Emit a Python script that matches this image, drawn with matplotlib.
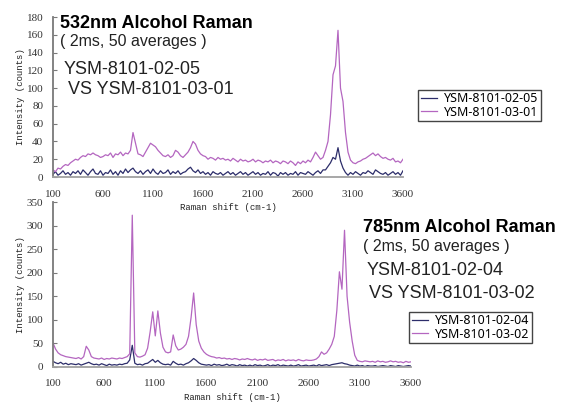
import numpy as np
import matplotlib.pyplot as plt

# Raman shift grid (cm-1), shared by all four spectra
shift = np.arange(100, 3601, 25)

# 532 nm spectra (counts)
ysm_02_05 = [3, 6, 2, 4, 7, 3, 5, 2, 6,
             4, 7, 3, 8, 5, 2, 6, 9,
             4, 3, 7, 2, 5, 4, 8, 3,
             6, 2, 7, 4, 9, 5,
             8, 10, 6, 4, 7, 3,
             6, 8, 4, 9, 5, 3, 7, 4,
             5, 8, 3, 6, 4, 7, 3, 5,
             6, 9, 11, 7, 5, 8, 4, 6,
             3, 5, 2, 6, 4, 3, 5, 2,
             4, 6, 3, 5, 2, 4, 6, 3,
             5, 2, 4, 6, 3, 5, 2, 4,
             3, 6, 2, 5, 4, 1, 5, 3,
             5, 2, 4, 3, 6, 2, 5, 4,
             3, 6, 4, 2, 5, 7, 4, 8,
             8, 12, 16, 22, 20, 33, 18, 10,
             5, 2, 5, 3, 6, 4, 2, 5,
             4, 7, 5, 3, 8, 6, 4, 3,
             5, 2, 4, 6, 3, 5, 2, 7]
ysm_03_01 = [8, 6, 10, 9, 12, 14, 13, 16, 18,
             20, 19, 22, 24, 23, 26, 25, 27,
             25, 24, 22, 23, 25, 24, 27, 22,
             26, 25, 28, 24, 27, 26,
             30, 50, 38, 26, 25, 23,
             28, 33, 38, 36, 34, 30, 27, 24,
             23, 25, 22, 24, 30, 28, 24, 22,
             25, 28, 33, 40, 37, 30, 26, 24,
             23, 20, 22, 21, 19, 22, 20, 21,
             19, 20, 18, 21, 19, 17, 20, 18,
             19, 17, 18, 20, 17, 19, 18, 16,
             18, 17, 19, 16, 18, 17, 15, 18,
             17, 15, 18, 16, 13, 17, 15, 18,
             16, 19, 17, 22, 28, 24, 20, 22,
             30, 40, 70, 115, 125, 165, 100, 85,
             50, 28, 19, 16, 15, 17, 18, 20,
             21, 23, 25, 27, 24, 26, 23, 21,
             22, 20, 19, 21, 17, 18, 16, 20]

# 785 nm spectra (counts)
ysm_02_04 = [12, 9, 7, 10, 6, 8, 5, 7, 6,
             5, 7, 4, 6, 8, 10, 7, 5,
             6, 4, 7, 5, 3, 6, 4, 5,
             4, 6, 5, 7, 8, 15,
             46, 8, 5, 6, 4, 7,
             8, 12, 16, 10, 14, 9, 6, 5,
             6, 4, 12, 8, 5, 6, 4, 7,
             9, 13, 18, 14, 9, 6, 5, 4,
             5, 3, 6, 4, 5, 3, 4, 6,
             3, 5, 4, 2, 5, 3, 4, 2,
             4, 2, 5, 3, 4, 2, 3, 5,
             2, 4, 3, 5, 2, 4, 3, 2,
             4, 2, 3, 5, 2, 3, 4, 2,
             3, 4, 2, 5, 3, 4, 5, 3,
             5, 6, 7, 8, 9, 7, 6, 4,
             3, 2, 4, 2, 3, 1, 3, 2,
             2, 3, 1, 2, 3, 2, 1, 3,
             2, 1, 3, 2, 1, 2, 3, 2]
ysm_03_02 = [51, 38, 30, 26, 24, 22, 21, 20, 19,
             18, 20, 17, 22, 44, 36, 22, 19,
             18, 17, 19, 16, 18, 17, 19, 18,
             17, 19, 18, 20, 22, 28,
             322, 30, 22, 21, 23, 26,
             40, 75, 117, 66, 119, 72, 42, 32,
             30, 32, 68, 45, 36, 38, 42, 48,
             65, 105, 157, 90, 55, 40, 32, 27,
             24, 22, 21, 19, 20, 18, 19, 17,
             18, 16, 18, 17, 15, 17, 16, 18,
             16, 15, 17, 14, 16, 15, 17, 14,
             15, 16, 13, 15, 14, 16, 13, 15,
             14, 15, 13, 16, 14, 13, 15, 14,
             14, 15, 17, 22, 32, 27, 30, 38,
             48, 65, 120, 202, 165, 290, 150, 95,
             55, 25, 14, 12, 11, 13, 12, 11,
             12, 10, 13, 11, 12, 10, 11, 13,
             11, 12, 10, 11, 9, 12, 10, 11]

xticks = [100, 600, 1100, 1600, 2100, 2600, 3100, 3600]
navy = '#2c2d6a'
purple = '#b466c0'
mono = 'Liberation Mono'
serif = 'Liberation Serif'

fig = plt.figure(figsize=(5.66, 4.05), dpi=100)


def style(ax, ymax, ystep):
    ax.set_xlim(100, 3600)
    ax.set_ylim(0, ymax)
    ax.set_xticks(xticks)
    ax.set_yticks(np.arange(0, ymax + 1, ystep))
    ax.patch.set_alpha(0)
    for s in ['top', 'right']:
        ax.spines[s].set_visible(False)
    ax.spines['left'].set_color('#7a7a7a')
    ax.spines['left'].set_linewidth(1.3)
    ax.spines['bottom'].set_color('#a0a0a0')
    ax.spines['bottom'].set_linewidth(1.3)
    ax.tick_params(axis='y', direction='in', length=3, color='#7a7a7a', pad=7,
                   labelsize=8, labelcolor='#333333')
    ax.tick_params(axis='x', length=0, pad=9, labelsize=8, labelcolor='#333333')
    for lab in ax.get_xticklabels() + ax.get_yticklabels():
        lab.set_family(serif)
    ax.set_xlabel('Raman shift (cm-1)', family=mono, fontsize=6.5, labelpad=3, color='#222222')
    ax.set_ylabel('Intensity (counts)', family=mono, fontsize=6.5, labelpad=1, color='#222222')


def legend(ax, x0, y0, names):
    lg = ax.legend(names, loc='lower left', bbox_to_anchor=(x0, y0),
                   bbox_transform=fig.transFigure, fancybox=False, framealpha=1,
                   edgecolor='#444444', fontsize=9, handlelength=1.3, handletextpad=0.6,
                   labelspacing=0.0, borderpad=0.2, borderaxespad=0)
    lg.get_frame().set_linewidth(1.0)
    for t in lg.get_texts():
        t.set_family('Noto Sans')


# top panel: 532 nm
ax1 = fig.add_axes([53 / 566, 1 - 177 / 405, 350 / 566, 160 / 405])
ax1.plot(shift, ysm_02_05, color=navy, lw=0.9)
ax1.plot(shift, ysm_03_01, color=purple, lw=0.9)
style(ax1, 180, 20)
legend(ax1, 418 / 566, 1 - 121 / 405, ['YSM-8101-02-05', 'YSM-8101-03-01'])

# bottom panel: 785 nm
ax2 = fig.add_axes([53 / 566, 1 - 367 / 405, 358 / 566, 165 / 405])
ax2.plot(shift, ysm_02_04, color=navy, lw=0.9)
ax2.plot(shift, ysm_03_02, color=purple, lw=0.9)
style(ax2, 350, 50)
legend(ax2, 409 / 566, 1 - 343 / 405, ['YSM-8101-02-04', 'YSM-8101-03-02'])

# annotations
sans = 'Liberation Sans'
fig.text(60 / 566, 1 - 28 / 405, '532nm Alcohol Raman', family=sans, fontsize=13,
         fontweight='bold', va='baseline')
fig.text(60 / 566, 1 - 46 / 405, '( 2ms, 50 averages )', family=sans, fontsize=11.5,
         va='baseline', color='#222222')
fig.text(64 / 566, 1 - 74 / 405, 'YSM-8101-02-05', family=sans, fontsize=13,
         va='baseline', color='#222222')
fig.text(68 / 566, 1 - 94 / 405, 'VS YSM-8101-03-01', family=sans, fontsize=13,
         va='baseline', color='#222222')

fig.text(363 / 566, 1 - 232 / 405, '785nm Alcohol Raman', family=sans, fontsize=13,
         fontweight='bold', va='baseline')
fig.text(363 / 566, 1 - 251 / 405, '( 2ms, 50 averages )', family=sans, fontsize=11.5,
         va='baseline', color='#222222')
fig.text(367 / 566, 1 - 275 / 405, 'YSM-8101-02-04', family=sans, fontsize=13,
         va='baseline', color='#222222')
fig.text(369 / 566, 1 - 298 / 405, 'VS YSM-8101-03-02', family=sans, fontsize=13,
         va='baseline', color='#222222')

fig.savefig('out.png', dpi=100)
